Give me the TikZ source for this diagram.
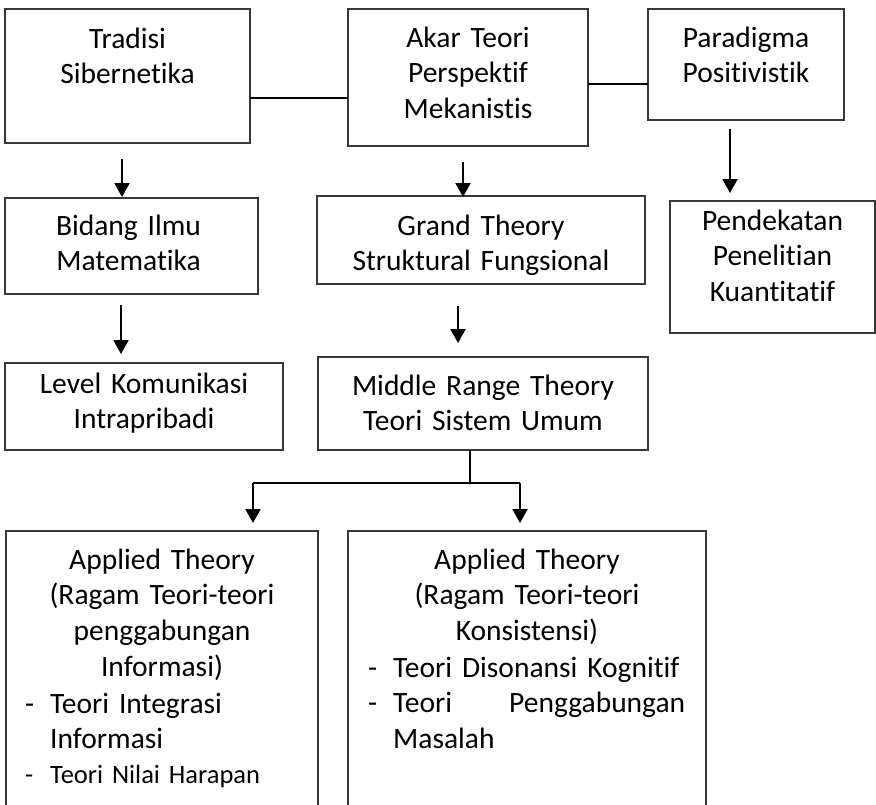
\documentclass[tikz,border=0pt]{standalone}
\usepackage{fontspec}
\setmainfont{Carlito}[Ligatures=NoCommon]
\usetikzlibrary{arrows.meta}
\newcommand\bodyfont{\fontsize{29.5}{35.7}\selectfont}
\newcommand\smallbodyfont{\fontsize{26.5}{35.7}\selectfont}
\begin{document}
\begin{tikzpicture}[x=1pt,y=-1pt,
  frame/.style={draw=black!78, line width=1.3pt, rectangle, inner sep=0pt,
    outer sep=0pt, anchor=north west},
  boxtext/.style={font=\bodyfont, inner sep=0pt, align=center, anchor=base},
  listtext/.style={font=\bodyfont, inner sep=0pt, align=left, anchor=base west},
  link/.style={line width=1.1pt, black},
  arrowline/.style={line width=2pt, black, -{Triangle[length=14pt,width=15pt]}},
]
\path[use as bounding box, fill=white] (0,0) rectangle (876,804);

% ---- boxes ----
\node[frame, minimum width=245pt, minimum height=134pt] (trad) at (5,9) {};
\node[frame, minimum width=240pt, minimum height=137pt] (akar) at (348,9) {};
\node[frame, minimum width=196pt, minimum height=111pt] (para) at (648,9) {};
\node[frame, minimum width=253pt, minimum height=96pt]  (bid)  at (5,198) {};
\node[frame, minimum width=328pt, minimum height=88pt]  (grand) at (317,196) {};
\node[frame, minimum width=205pt, minimum height=132pt] (pend) at (670,201) {};
\node[frame, minimum width=278pt, minimum height=87pt]  (lev)  at (5,363) {};
\node[frame, minimum width=330pt, minimum height=93pt]  (mid)  at (318,357) {};
% the two lower boxes run on past the foot of the page
\node[frame, minimum width=312pt, minimum height=300pt] (appl) at (6,531) {};
\node[frame, minimum width=358pt, minimum height=300pt] (appr) at (348,531) {};

% ---- box texts ----
\node[boxtext, text width=240pt] (tradt) at ([yshift=-39pt]trad.north) {Tradisi\\Sibernetika};
\node[boxtext, text width=236pt] (akart) at ([yshift=-38pt]akar.north) {Akar Teori\\Perspektif\\Mekanistis};
\node[boxtext, text width=190pt] (parat) at ([yshift=-38pt]para.north) {Paradigma\\Positivistik};
\node[boxtext, text width=248pt] (bidt) at ([yshift=-37pt,xshift=-3pt]bid.north) {Bidang Ilmu\\Matematika};
\node[boxtext, text width=320pt] (grandt) at ([yshift=-39pt]grand.north) {Grand Theory\\Struktural Fungsional};
\node[boxtext, text width=200pt] (pendt) at ([yshift=-29pt]pend.north) {Pendekatan\\Penelitian\\Kuantitatif};
\node[boxtext, text width=272pt] (levt) at ([yshift=-30pt]lev.north) {Level Komunikasi\\Intrapribadi};
\node[boxtext, text width=324pt] (midt) at ([yshift=-38pt]mid.north) {Middle Range Theory\\Teori Sistem Umum};

\node[boxtext, text width=306pt] (applt) at ([yshift=-38pt]appl.north)
  {Applied Theory\\(Ragam Teori-teori\\penggabungan\\Informasi)};
\node[listtext, text width=290pt] (appll) at ([xshift=19pt,yshift=-182pt]appl.north west)
  {\makebox[25pt][l]{-}Teori Integrasi\\\hspace*{25pt}Informasi};
\node[listtext, font=\smallbodyfont, text width=290pt] (appls) at ([xshift=19pt,yshift=-252pt]appl.north west)
  {\makebox[25pt][l]{-}Teori Nilai Harapan};

\node[boxtext, text width=350pt] (apprt) at ([yshift=-38pt]appr.north)
  {Applied Theory\\(Ragam Teori-teori\\Konsistensi)};
\node[listtext, text width=340pt] (appri) at ([xshift=20pt,yshift=-146pt]appr.north west)
  {\makebox[25pt][l]{-}Teori Disonansi Kognitif\\
   \makebox[25pt][l]{-}\hbox to 292pt{Teori\hfill Penggabungan}\\
   \hspace*{25pt}Masalah};

% ---- plain joining lines ----
\path (trad.east) ++(0,22) coordinate (j1);
\draw[link] (j1) -- (j1 -| akar.west);
\path (akar.east) ++(0,6.5) coordinate (j2);
\draw[link] (j2) -- (j2 -| para.west);

% ---- arrows ----
\coordinate (a1s) at (122,159); \coordinate (a1e) at (122,197);
\coordinate (a2s) at (463,162); \coordinate (a2e) at (463,197);
\coordinate (a3s) at (730,129); \coordinate (a3e) at (730,193);
\coordinate (a4s) at (121,305); \coordinate (a4e) at (121,354);
\coordinate (a5s) at (458,306); \coordinate (a5e) at (458,343);
\draw[arrowline] (a1s) -- (a1e);
\draw[arrowline] (a2s) -- (a2e);
\draw[arrowline] (a3s) -- (a3e);
\draw[arrowline] (a4s) -- (a4e);
\draw[arrowline] (a5s) -- (a5e);

% ---- split below the middle range box ----
\coordinate (sp) at (470,483);
\coordinate (spl) at (253,483);
\coordinate (spr) at (520,483);
\draw[link] (sp |- mid.south) -- (sp);
\draw[link] (spl) -- (spr);
\draw[arrowline] (spl) -- ([yshift=8pt]spl |- appl.north);
\draw[arrowline] (spr) -- ([yshift=8pt]spr |- appr.north);
\end{tikzpicture}
\end{document}
